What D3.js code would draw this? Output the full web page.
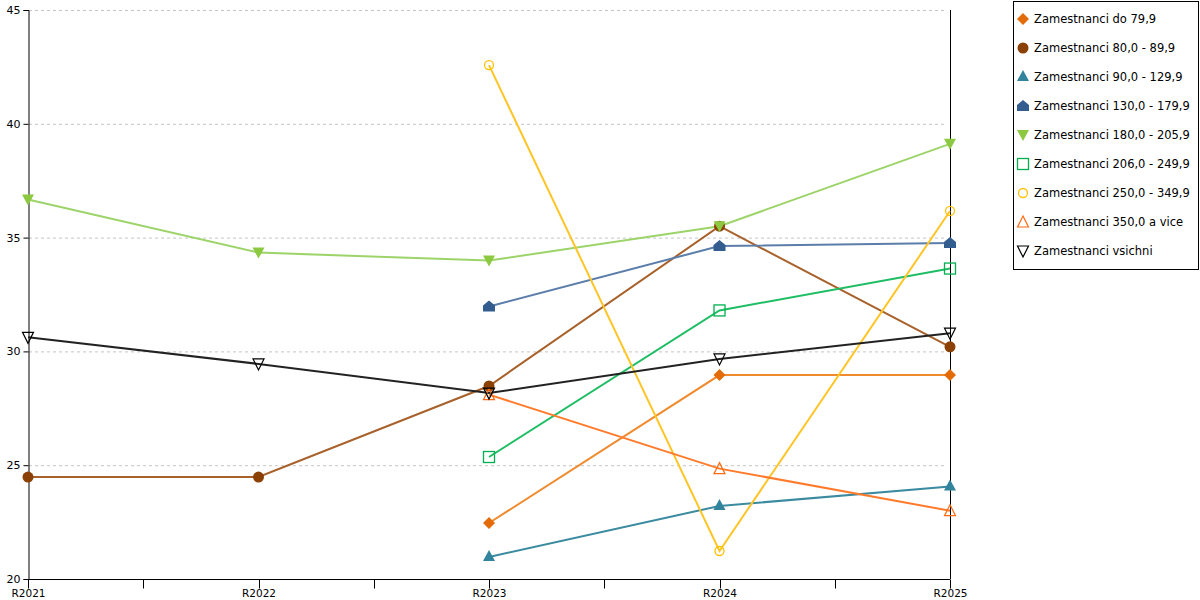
<!DOCTYPE html>
<html><head><meta charset="utf-8">
<script src="https://cdn.jsdelivr.net/npm/d3@7"></script>
<style>body{margin:0;background:#fff}svg{display:block;font-family:"DejaVu Sans",Verdana,sans-serif}</style>
</head><body><svg id="c" width="1200" height="600"></svg>
<script>
const categories = ["R2021","R2022","R2023","R2024","R2025"];
const yTicks = [20,25,30,35,40,45];
const seriesNames = ["Zamestnanci do 79,9","Zamestnanci 80,0 - 89,9","Zamestnanci 90,0 - 129,9","Zamestnanci 130,0 - 179,9","Zamestnanci 180,0 - 205,9","Zamestnanci 206,0 - 249,9","Zamestnanci 250,0 - 349,9","Zamestnanci 350,0 a vice","Zamestnanci vsichni"];
const s1 = [null,null,22.46,28.96,28.96];
const s2 = [24.48,24.48,28.48,35.5,30.2];
const s3 = [null,null,20.97,23.21,24.06];
const s4 = [null,null,31.97,34.63,34.76];
const s5 = [36.67,34.34,33.99,35.5,39.12];
const s6 = [null,null,25.36,31.8,33.64];
const s7 = [null,null,42.58,21.23,36.17];
const s8 = [null,null,28.1,24.85,23.0];
const s9 = [30.62,29.45,28.17,29.67,30.8];
const seriesValues = [s1,s2,s3,s4,s5,s6,s7,s8,s9];
const lineColors = ["#ef8a2e","#a8612b","#3a8aa0","#5b7daa","#9dd46a","#1fbd64","#ffc526","#ff7b2b","#222222"];
const markColors = ["#e36c09","#8b4104","#31849b","#335d8f","#8cc941","#00b050","#ffc000","#ff6a13","#000000"];
const shapes = ["diamond","circle","triangle","house","tridown","osquare","ocircle","otriangle","otridown"];

const svg = d3.select("#c");
const L=28,R=950,T=10,B=579;
const x = d3.scalePoint().domain(categories).range([L,R]);
const y = d3.scaleLinear().domain([20,45]).range([B,T]);

// grid
svg.append("g").selectAll("line").data(yTicks.filter(d=>d>20)).join("line")
  .attr("x1",L+1).attr("x2",R-3).attr("y1",d=>y(d)+0.5).attr("y2",d=>y(d)+0.5)
  .attr("stroke","#c4c4c4").attr("stroke-dasharray","3,3");

// y axis
const ya = svg.append("g").attr("transform",`translate(${L+0.5},0)`)
  .call(d3.axisLeft(y).tickValues(yTicks).tickSize(5).tickPadding(3).tickFormat(d3.format("d")));
ya.select(".domain").attr("stroke","#000");
ya.selectAll("text").attr("font-size",11).attr("fill","#000").attr("font-family","DejaVu Sans, Verdana");
// right line
svg.append("line").attr("x1",R+0.5).attr("x2",R+0.5).attr("y1",T).attr("y2",B).attr("stroke","#000");

// x axis
const xa = svg.append("g").attr("transform",`translate(0,${B+0.5})`)
  .call(d3.axisBottom(x).tickSize(9).tickPadding(4));
xa.select(".domain").attr("stroke","#000").attr("d",`M${L},0H${R}`);
xa.selectAll("line").remove();
xa.selectAll("text").attr("font-size",10.5).attr("fill","#000").attr("y",17).attr("dy",0).attr("font-family","DejaVu Sans, Verdana");
const mids=[];
for(let i=0;i<categories.length-1;i++) mids.push((x(categories[i])+x(categories[i+1]))/2);
xa.append("g").selectAll("line").data(categories.map(c=>x(c)).concat(mids)).join("line")
  .attr("x1",d=>Math.round(d)+0.5).attr("x2",d=>Math.round(d)+0.5).attr("y1",0).attr("y2",9).attr("stroke","#000");

function drawMarker(g, shape, col, cx, cy){
  switch(shape){
    case "diamond": g.append("path").attr("d",`M${cx},${cy-6}L${cx+6},${cy}L${cx},${cy+6}L${cx-6},${cy}Z`).attr("fill",col); break;
    case "circle": g.append("circle").attr("cx",cx).attr("cy",cy).attr("r",5.5).attr("fill",col); break;
    case "triangle": g.append("path").attr("d",`M${cx},${cy-7}L${cx+6},${cy+4}L${cx-6},${cy+4}Z`).attr("fill",col); break;
    case "house": g.append("path").attr("d",`M${cx},${cy-6}L${cx+6},${cy-1}L${cx+6},${cy+5}L${cx-6},${cy+5}L${cx-6},${cy-1}Z`).attr("fill",col); break;
    case "tridown": g.append("path").attr("d",`M${cx-6},${cy-5}L${cx+6},${cy-5}L${cx},${cy+6}Z`).attr("fill",col); break;
    case "osquare": g.append("rect").attr("x",cx-5.5).attr("y",cy-5.5).attr("width",11).attr("height",11).attr("fill","none").attr("stroke",col).attr("stroke-width",1.3); break;
    case "ocircle": g.append("circle").attr("cx",cx).attr("cy",cy).attr("r",4.5).attr("fill","none").attr("stroke",col).attr("stroke-width",1.3); break;
    case "otriangle": g.append("path").attr("d",`M${cx},${cy-6}L${cx+5.5},${cy+5}L${cx-5.5},${cy+5}Z`).attr("fill","none").attr("stroke",col).attr("stroke-width",1.2); break;
    case "otridown": g.append("path").attr("d",`M${cx-5.5},${cy-5}L${cx+5.5},${cy-5}L${cx},${cy+6}Z`).attr("fill","none").attr("stroke",col).attr("stroke-width",1.2); break;
  }
}

const line = d3.line().defined(d=>d.v!=null).x(d=>x(d.c)).y(d=>y(d.v));
const plot = svg.append("g");
seriesValues.forEach((vals,i)=>{
  const pts = vals.map((v,j)=>({c:categories[j],v}));
  plot.append("path").datum(pts).attr("d",line).attr("fill","none").attr("stroke",lineColors[i]).attr("stroke-width",2);
});
seriesValues.forEach((vals,i)=>{
  const g = plot.append("g");
  vals.forEach((v,j)=>{ if(v!=null) drawMarker(g,shapes[i],markColors[i],x(categories[j]),y(v)); });
});

// legend
const lg = svg.append("g");
lg.append("rect").attr("x",1013.5).attr("y",1.5).attr("width",185).attr("height",268).attr("fill","#fff").attr("stroke","#000");
seriesNames.forEach((n,i)=>{
  const cy = 19 + i*29;
  drawMarker(lg, shapes[i], markColors[i], 1023, cy);
  lg.append("text").attr("x",1034).attr("y",cy).attr("dy","0.35em").attr("font-size",11.5).attr("fill","#000").text(n);
});
</script></body></html>
